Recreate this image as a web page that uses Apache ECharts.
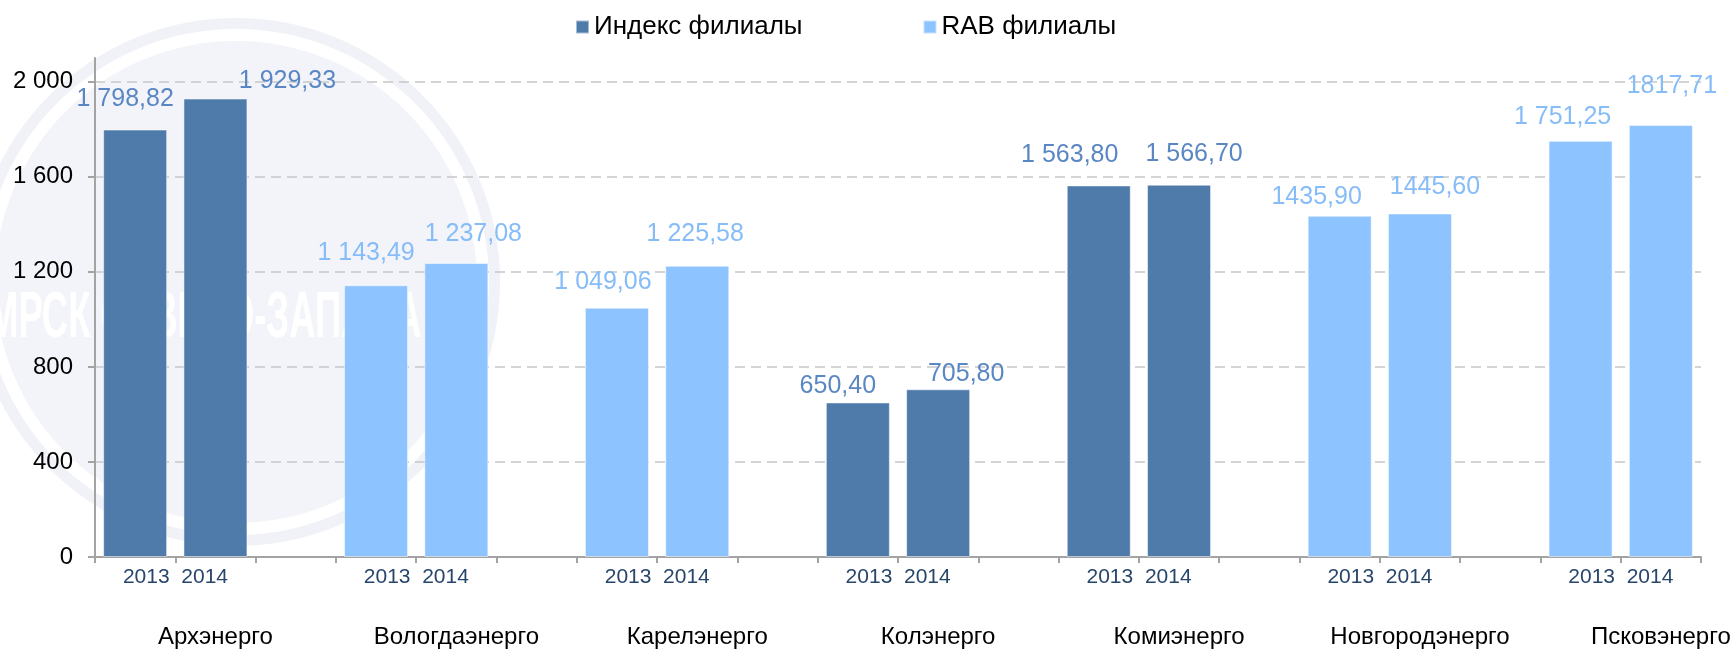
<!DOCTYPE html>
<html>
<head>
<meta charset="utf-8">
<title>Индекс и RAB филиалы</title>
<script src="https://cdn.jsdelivr.net/npm/echarts@6.0.0/dist/echarts.min.js"></script>
<style>
    html, body { margin: 0; padding: 0; background: #ffffff; }
    #chart { width: 1735px; height: 649px; }
</style>
</head>
<body>
<div id="chart"></div>
<script>
    // данные по филиалам
    var groups = ['Архэнерго', 'Вологдаэнерго', 'Карелэнерго', 'Колэнерго', 'Комиэнерго', 'Новгородэнерго', 'Псковэнерго'];
    var years = ['2013', '2014'];
    var values2013 = [1798.82, 1143.49, 1049.06, 650.40, 1563.80, 1435.90, 1751.25];
    var values2014 = [1929.33, 1237.08, 1225.58, 705.80, 1566.70, 1445.60, 1817.71];
    var labels2013 = ['1 798,82', '1 143,49', '1 049,06', '650,40', '1 563,80', '1435,90', '1 751,25'];
    var labels2014 = ['1 929,33', '1 237,08', '1 225,58', '705,80', '1 566,70', '1445,60', '1817,71'];
    // 0 - Индекс филиалы, 1 - RAB филиалы
    var groupSeries = [0, 1, 1, 0, 0, 1, 1];
    var seriesNames = ['Индекс филиалы', 'RAB филиалы'];
    var yTicks = [0, 400, 800, 1200, 1600, 2000];

    // сдвиг подписей над столбцами, как на слайде (px)
    var shift2013 = [[-10, -13], [-10, -15], [-14, -8], [-20, 1], [-29, -13], [-23, -1], [-18, -6]];
    var shift2014 = [[72, 0], [17, -11], [-2, -14], [28, 2], [15, -13], [15, -9], [11, -21]];

    var font = 'Arial, "Liberation Sans", sans-serif';
    var barColors = ['#4f7bab', '#8dc3fe'];
    var labelColors = ['#5a87c3', '#86bcf8'];

    // 3 слота на филиал: 2013, 2014, пусто (у последнего пустого нет)
    var cats = [];
    var seriesData = [[], []];
    groups.forEach(function (g, i) {
        var vals = [values2013[i], values2014[i]];
        var texts = [labels2013[i], labels2014[i]];
        var shifts = [shift2013[i], shift2014[i]];
        for (var k = 0; k < 2; k++) {
            cats.push(g + ' ' + years[k]);
            for (var s = 0; s < 2; s++) {
                if (s === groupSeries[i]) {
                    seriesData[s].push({
                        value: vals[k],
                        label: { formatter: texts[k], offset: shifts[k] }
                    });
                } else {
                    seriesData[s].push(null);
                }
            }
        }
        if (i < groups.length - 1) {
            cats.push('пусто ' + i);
            seriesData[0].push(null);
            seriesData[1].push(null);
        }
    });

    function thousands(v) {
        return String(v).replace(/\B(?=(\d{3})+(?!\d))/g, ' ');
    }

    var chart = echarts.init(document.getElementById('chart'));
    var option = {
        backgroundColor: '#ffffff',
        animation: false,
        textStyle: { fontFamily: font },
        graphic: [
            // бледный логотип на фоне
            { type: 'circle', silent: true, z: -10, shape: { cx: 236, cy: 282, r: 264 }, style: { fill: '#f0f2f8' } },
            { type: 'circle', silent: true, z: -10, shape: { cx: 236, cy: 282, r: 253 }, style: { fill: '#ffffff' } },
            { type: 'circle', silent: true, z: -10, shape: { cx: 236, cy: 282, r: 241 }, style: { fill: '#f3f4f9' } },
            {
                type: 'text', silent: true, z: -9, x: -12, y: 287, scaleX: 0.57,
                style: { text: 'МРСК СЕВЕРО-ЗАПАДА', font: 'bold 64px ' + font, fill: '#ffffff' }
            }
        ],
        legend: {
            data: seriesNames,
            left: 570,
            top: 9,
            icon: 'rect',
            itemWidth: 13,
            itemHeight: 13,
            itemGap: 120,
            textStyle: { fontSize: 26, color: '#000000', fontFamily: font }
        },
        grid: {
            left: 95,
            right: 34,
            top: 58,
            bottom: 92,
            containLabel: false,
            outerBoundsMode: 'none'
        },
        xAxis: {
            type: 'category',
            data: cats,
            boundaryGap: true,
            axisLine: { lineStyle: { color: '#a3a3a3', width: 2 } },
            axisTick: { show: true, length: 6, interval: 0, lineStyle: { color: '#a3a3a3', width: 2 } },
            axisLabel: {
                interval: 0,
                margin: 4,
                formatter: function (value, index) {
                    if (index % 3 !== 1) return '';
                    var g = (index - 1) / 3;
                    return '{y|' + years.join('  ') + '}\n{g|' + groups[g] + '}';
                },
                rich: {
                    y: { fontSize: 21, color: '#28466b', fontFamily: font, lineHeight: 33, align: 'center', padding: [0, 80, 0, 0] },
                    g: { fontSize: 24, color: '#000000', fontFamily: font, lineHeight: 86, align: 'center' }
                }
            },
            splitLine: { show: false }
        },
        yAxis: {
            type: 'value',
            min: 0,
            max: 2100,
            interval: 400,
            axisLine: { show: true, lineStyle: { color: '#a3a3a3', width: 2 } },
            axisTick: { show: true, length: 7, customValues: yTicks, lineStyle: { color: '#a3a3a3', width: 2 } },
            axisLabel: {
                customValues: yTicks,
                margin: 22,
                fontSize: 24,
                color: '#000000',
                fontFamily: font,
                formatter: function (v) { return thousands(v); }
            },
            splitLine: {
                show: true,
                showMinLine: false,
                showMaxLine: true,
                lineStyle: { color: '#c6c6c6', width: 1.5, type: [10, 6] }
            }
        },
        series: [0, 1].map(function (s) {
            return {
                name: seriesNames[s],
                type: 'bar',
                barWidth: 64,
                barGap: '-100%',
                data: seriesData[s],
                itemStyle: { color: barColors[s], borderColor: 'rgba(255,255,255,0.5)', borderWidth: 1 },
                label: {
                    show: true,
                    position: 'top',
                    distance: 5,
                    fontSize: 25,
                    fontFamily: font,
                    color: labelColors[s]
                }
            };
        })
    };
    chart.setOption(option);
</script>
</body>
</html>
